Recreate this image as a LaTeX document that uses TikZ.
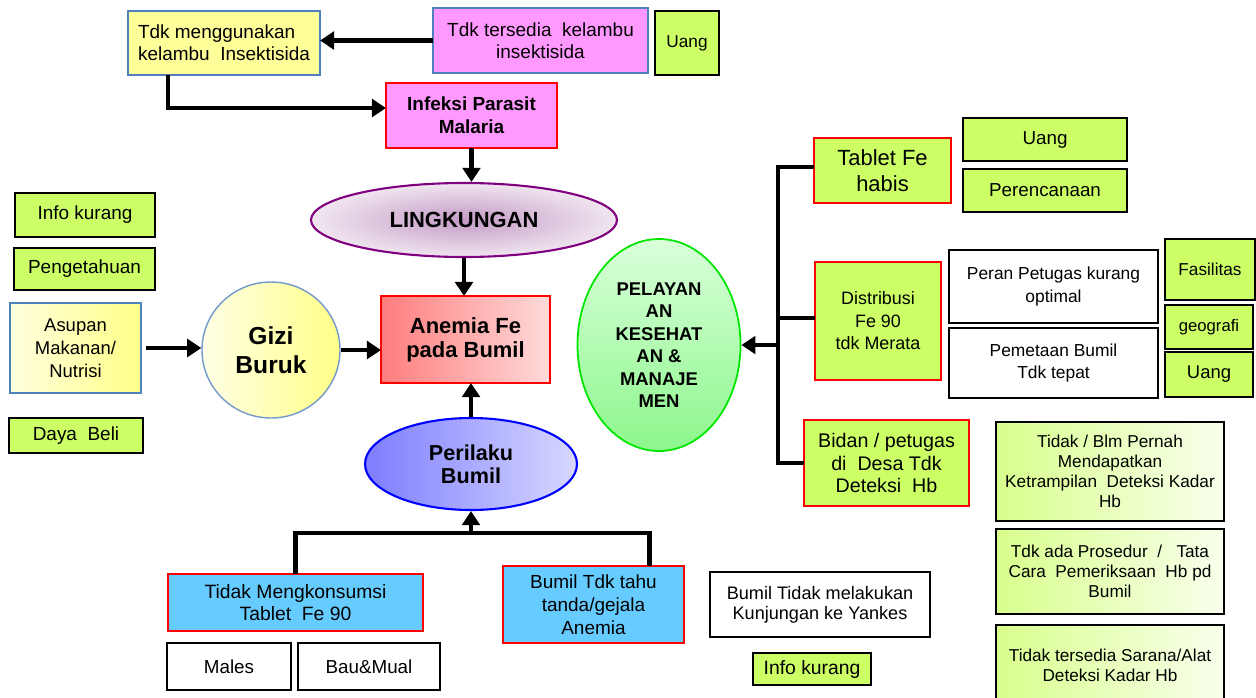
\documentclass[tikz,border=0pt]{standalone}
\usepackage{fontspec}
\setmainfont{Liberation Sans}
\usetikzlibrary{shapes.geometric,arrows.meta,calc}
\definecolor{gr}{HTML}{CCFF66}
\definecolor{pk}{HTML}{FF99FF}
\definecolor{yl}{HTML}{FFFF99}
\definecolor{bl}{HTML}{4F81BD}
\definecolor{lb}{HTML}{66CCFF}
\definecolor{pu}{HTML}{800080}
\newcommand\fz[2]{\fontsize{#1pt}{#2pt}\selectfont}
\newcommand\bx[7]{\node[#1,minimum width={(#5-#3)*0.02cm},minimum height={(#6-#4)*0.02cm}] (#2) at ({(#3+#5)/2},{(#4+#6)/2}) {#7};}
\tikzset{
  base/.style={inner sep=1pt,outer sep=0pt,align=center,font={\fz{10.8}{12.5}}},
  gbox/.style={base,draw=black,line width=1.3pt,fill=gr},
  rgbox/.style={base,draw=red,line width=1.2pt,fill=gr},
  wbox/.style={base,draw=black,line width=1.3pt,fill=white},
  lbbox/.style={base,draw=red,line width=1.2pt,fill=lb},
  tbox/.style={base,draw=black,line width=1.3pt,left color=gr!75!white,right color=gr!12!white,font={\fz{9.8}{11.3}}},
  ln/.style={line width=2.6pt,black},
  arr/.style={ln,-{Triangle[length=8pt,width=10pt]}},
}
\begin{document}
\begin{tikzpicture}[x=0.02cm,y=-0.02cm]
\useasboundingbox[fill=white] (0,0) rectangle (1256,697);
% top
\bx{base,draw=bl,line width=1.2pt,fill=yl,align=left}{t1}{128}{11}{320}{75}{Tdk menggunakan\\kelambu\ \ Insektisida}
\bx{base,draw=bl,line width=1.2pt,fill=pk}{t2}{433}{8}{648}{73}{Tdk tersedia\ \ kelambu\\insektisida}
\bx{gbox,font={\fz{9.8}{12}}}{u1}{655}{11}{719}{75}{Uang}
\bx{base,draw=red,line width=1.3pt,fill=pk,font={\bfseries\fz{10.8}{13}}}{inf}{386}{83}{557}{148}{Infeksi Parasit\\Malaria}
% centre
\node[ellipse,draw=pu,line width=1.2pt,inner color={rgb,255:red,196;green,155;blue,198},outer color={rgb,255:red,240;green,230;blue,240},minimum width={306*0.02cm},minimum height={74*0.02cm},inner sep=0pt,font={\bfseries\fz{12.5}{14}}] (ling) at (464,220) {LINGKUNGAN};
\bx{base,draw=red,line width=1.5pt,left color={rgb,255:red,255;green,125;blue,125},right color={rgb,255:red,255;green,218;blue,218},font={\bfseries\fz{12.5}{13.7}}}{an}{381}{296}{550}{383}{Anemia Fe\\pada Bumil}
\node[ellipse,draw=bl!80!white,line width=0.8pt,left color={rgb,255:red,255;green,255;blue,230},right color={rgb,255:red,255;green,255;blue,135},minimum width={138*0.02cm},minimum height={136*0.02cm},inner sep=0pt,align=center,font={\bfseries\fz{14}{16.5}}] (gizi) at (271,350) {Gizi\\Buruk};
\node[ellipse,draw=blue,line width=1.2pt,left color={rgb,255:red,125;green,125;blue,255},right color={rgb,255:red,216;green,216;blue,255},minimum width={212*0.02cm},minimum height={92*0.02cm},inner sep=0pt,align=center,font={\bfseries\fz{12.3}{13}}] (per) at (471,464) {Perilaku\\Bumil};
\node[ellipse,draw={rgb,255:red,0;green,230;blue,0},line width=1pt,top color={rgb,255:red,218;green,255;blue,218},bottom color={rgb,255:red,140;green,247;blue,140},minimum width={163*0.02cm},minimum height={212*0.02cm},inner sep=0pt,align=center,font={\bfseries\fz{10.5}{12.8}}] (pel) at (659,345) {PELAYAN\\AN\\KESEHAT\\AN \&\\MANAJE\\MEN};
% left
\bx{gbox}{ik1}{15}{193}{155}{237}{Info kurang}
\bx{gbox}{pg}{14}{248}{155}{290}{Pengetahuan}
\bx{base,draw=bl,line width=1.5pt,left color={rgb,255:red,255;green,255;blue,222},right color={rgb,255:red,255;green,255;blue,136},font={\fz{10.5}{13}}}{asu}{10}{303}{141}{393}{Asupan\\Makanan/\\Nutrisi}
\bx{gbox}{db}{9}{418}{143}{453}{Daya\ \ Beli}
% right
\bx{rgbox,font={\fz{12.5}{15}}}{tf}{814}{138}{951}{203}{Tablet Fe\\habis}
\bx{gbox,font={\fz{10.7}{12}}}{u2}{963}{118}{1127}{161}{Uang}
\bx{gbox,font={\fz{10.7}{12}}}{pr}{963}{169}{1127}{212}{Perencanaan}
\bx{rgbox,font={\fz{10.2}{12.8}}}{dis}{815}{262}{941}{380}{Distribusi\\Fe 90\\tdk Merata}
\bx{wbox,font={\fz{9.9}{13}}}{pp}{949}{250}{1158}{323}{Peran Petugas kurang\\optimal}
\bx{wbox,font={\fz{9.9}{13}}}{pb}{949}{328}{1158}{398}{Pemetaan Bumil\\Tdk tepat}
\bx{gbox,font={\fz{9.8}{12}}}{fa}{1165}{239}{1255}{300}{Fasilitas}
\bx{gbox,font={\fz{9.5}{12}}}{ge}{1165}{305}{1253}{349}{geografi}
\bx{gbox,font={\fz{10.5}{12}}}{u3}{1165}{352}{1253}{397}{Uang}
\bx{rgbox,font={\fz{11.2}{13}}}{bd}{804}{420}{969}{506}{Bidan / petugas\\di\ \ Desa Tdk\\Deteksi\ \ Hb}
\bx{tbox}{tb}{996}{422}{1224}{521}{Tidak / Blm Pernah\\Mendapatkan\\Ketrampilan\ \ Deteksi Kadar\\Hb}
\bx{tbox}{tp}{996}{529}{1224}{614}{Tdk ada Prosedur\ \ /\ \ \ Tata\\Cara\ \ Pemeriksaan\ \ Hb pd\\Bumil}
\bx{tbox}{ts}{996}{625}{1224}{705}{Tidak tersedia Sarana/Alat\\Deteksi Kadar Hb}
% bottom
\bx{lbbox,font={\fz{11}{13}}}{tm}{168}{574}{423}{631}{Tidak Mengkonsumsi\\Tablet\ \ Fe 90}
\bx{lbbox,font={\fz{10.8}{13}}}{bt}{503}{566}{684}{643}{Bumil Tdk tahu\\tanda/gejala\\Anemia}
\bx{wbox,font={\fz{10.7}{12}}}{ml}{167}{643}{291}{690}{Males}
\bx{wbox,font={\fz{10.7}{12}}}{bm}{298}{643}{440}{690}{Bau\&Mual}
\bx{wbox,font={\fz{10.3}{11.4}}}{bk}{710}{572}{930}{637}{Bumil Tidak melakukan\\Kunjungan ke Yankes}
\bx{gbox,font={\fz{11}{12}}}{ik2}{753}{653}{871}{685}{Info kurang}
% connectors
\draw[arr] (t2.west) -- (t2.west -| t1.east);
\draw[arr] ([xshift=-1.12cm]t1.south) |- ([yshift=0.15cm]inf.west);
\draw[arr] (inf.south) -- (inf.south |- ling.north);
\draw[arr] (ling.south) -- (ling.south |- an.north);
\draw[arr,shorten <=3pt] (asu.east) -- (asu.east -| gizi.west);
\draw[arr] (gizi.east) -- (gizi.east -| an.west);
\draw[arr] (per.north) -- (per.north |- an.south);
\draw[ln] ([yshift=0.07cm]tf.west) -- ++(-36,0) coordinate (b1) -- (b1 |- bd.west) -- (bd.west);
\draw[ln] ([yshift=0.06cm]dis.west) -- ([yshift=0.06cm]b1 |- dis.west);
\draw[arr] (b1 |- pel.east) -- (pel.east);
\draw[ln] (tm.north) -- ++(0,-41) coordinate (c1) -| ([xshift=1.12cm]bt.north);
\draw[arr] (per.south |- c1) -- (per.south);
\end{tikzpicture}
\end{document}
